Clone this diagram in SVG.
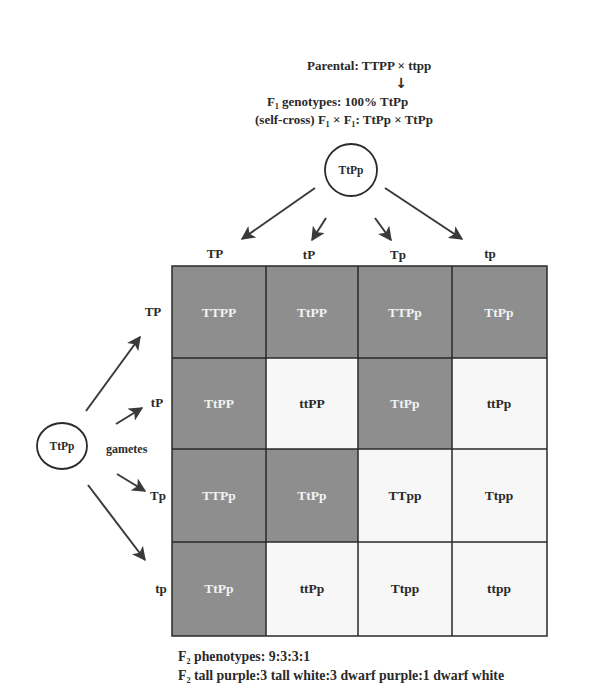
<svg xmlns="http://www.w3.org/2000/svg" width="603" height="689" viewBox="0 0 603 689">
<defs>
<style>
text{font-family:"Liberation Serif","DejaVu Serif",serif;font-weight:bold;fill:#2a2a2a}
.h{font-size:13px}
.f{font-size:13.8px}
.c{font-size:13.5px;text-anchor:middle}
.w{fill:#f2f2f2}
.g{font-size:13px;text-anchor:middle}
.dk{fill:#8e8e8e}
.lt{fill:#f7f7f7}
.cl{fill:none;stroke:#2a2a2a;stroke-width:1.8}
.ar{stroke:#3a3a3a;stroke-width:2;fill:none;marker-end:url(#ah)}
.gl{stroke:#2a2a2a;stroke-width:1.5;fill:none}
</style>
<marker id="ah" viewBox="0 0 10 10" refX="9" refY="5" markerWidth="7" markerHeight="7" orient="auto" markerUnits="strokeWidth">
<path d="M0,0 L10,5 L0,10 L2.5,5 Z" fill="#3a3a3a"/>
</marker>
</defs>
<rect width="603" height="689" fill="#ffffff"/>
<g id="header">
<text class="h" x="307" y="70">Parental: TTPP × ttpp</text>
<text x="401" y="88" text-anchor="middle" font-size="14" font-weight="normal" style="font-family:'DejaVu Sans','Liberation Sans',sans-serif;fill:#2a2a2a">↓</text>
<text class="h" x="267" y="106">F₁ genotypes: 100% TtPp</text>
<text class="h" x="255" y="124">(self-cross) F₁ × F₁: TtPp × TtPp</text>
</g>
<g id="parent-top">
<circle class="cl" cx="351" cy="170" r="26"/>
<text x="351" y="174" text-anchor="middle" font-size="11.5">TtPp</text>
</g>
<g id="parent-left">
<ellipse class="cl" cx="62" cy="446" rx="25" ry="23"/>
<text x="62" y="450" text-anchor="middle" font-size="11.5">TtPp</text>
<text x="106" y="453" font-size="12">gametes</text>
</g>
<g id="connectors">
<line class="ar" x1="315" y1="188" x2="242" y2="239"/>
<line class="ar" x1="326" y1="218" x2="312" y2="240"/>
<line class="ar" x1="375" y1="218" x2="391" y2="240"/>
<line class="ar" x1="385" y1="188" x2="462" y2="239"/>
<line class="ar" x1="86" y1="411" x2="140" y2="337"/>
<line class="ar" x1="116" y1="424" x2="142" y2="408"/>
<line class="ar" x1="117" y1="474" x2="145" y2="491"/>
<line class="ar" x1="88" y1="485" x2="145" y2="560"/>
</g>
<g id="gamete-labels">
<text class="g" x="215" y="258">TP</text>
<text class="g" x="309" y="259">tP</text>
<text class="g" x="398" y="259">Tp</text>
<text class="g" x="490" y="258">tp</text>
<text class="g" x="153" y="316">TP</text>
<text class="g" x="157" y="407">tP</text>
<text class="g" x="158" y="500">Tp</text>
<text class="g" x="161" y="593">tp</text>
</g>
<g id="punnett-grid">
<rect class="dk" x="172" y="266" width="94" height="92"/>
<rect class="dk" x="266" y="266" width="92" height="92"/>
<rect class="dk" x="358" y="266" width="94" height="92"/>
<rect class="dk" x="452" y="266" width="95" height="92"/>
<rect class="dk" x="172" y="358" width="94" height="91"/>
<rect class="lt" x="266" y="358" width="92" height="91"/>
<rect class="dk" x="358" y="358" width="94" height="91"/>
<rect class="lt" x="452" y="358" width="95" height="91"/>
<rect class="dk" x="172" y="449" width="94" height="93"/>
<rect class="dk" x="266" y="449" width="92" height="93"/>
<rect class="lt" x="358" y="449" width="94" height="93"/>
<rect class="lt" x="452" y="449" width="95" height="93"/>
<rect class="dk" x="172" y="542" width="94" height="94"/>
<rect class="lt" x="266" y="542" width="92" height="94"/>
<rect class="lt" x="358" y="542" width="94" height="94"/>
<rect class="lt" x="452" y="542" width="95" height="94"/>
<rect class="gl" x="172" y="266" width="375" height="370"/>
<path class="gl" d="M266,266V636M358,266V636M452,266V636M172,358H547M172,449H547M172,542H547"/>
</g>
<g id="genotypes">
<text class="c w" x="219" y="317">TTPP</text>
<text class="c w" x="312" y="317">TtPP</text>
<text class="c w" x="405" y="317">TTPp</text>
<text class="c w" x="499" y="317">TtPp</text>
<text class="c w" x="219" y="408">TtPP</text>
<text class="c" x="312" y="408">ttPP</text>
<text class="c w" x="405" y="408">TtPp</text>
<text class="c" x="499" y="408">ttPp</text>
<text class="c w" x="219" y="500">TTPp</text>
<text class="c w" x="312" y="500">TtPp</text>
<text class="c" x="405" y="500">TTpp</text>
<text class="c" x="499" y="500">Ttpp</text>
<text class="c w" x="219" y="593">TtPp</text>
<text class="c" x="312" y="593">ttPp</text>
<text class="c" x="405" y="593">Ttpp</text>
<text class="c" x="499" y="593">ttpp</text>
</g>
<g id="footer">
<text class="f" x="178" y="661">F₂ phenotypes: 9:3:3:1</text>
<text class="f" x="178" y="680">F₂ tall purple:3 tall white:3 dwarf purple:1 dwarf white</text>
</g>
</svg>
